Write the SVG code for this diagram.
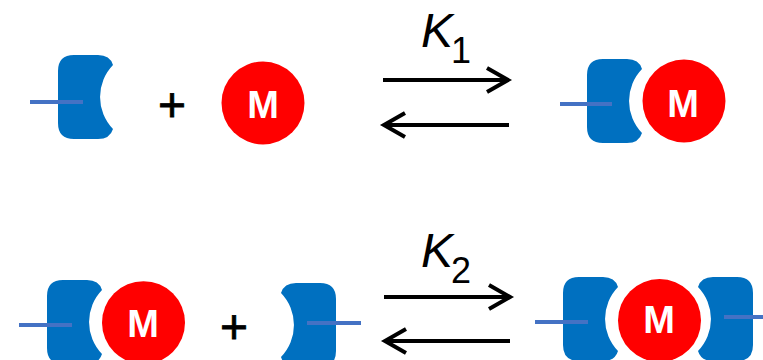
<svg xmlns="http://www.w3.org/2000/svg" width="763" height="360" viewBox="0 0 763 360">
<style>
.cup{fill:#0070C0}
.stick{stroke:#4472C4;stroke-width:4;fill:none}
.ball{fill:#FF0000}
.m{font-family:"Liberation Sans",Arial,sans-serif;font-weight:bold;font-size:38px;fill:#FFFFFF;text-anchor:middle}
.plus{font-family:"Liberation Sans",Arial,sans-serif;font-size:48px;fill:#000000;stroke:#000000;stroke-width:0.8;text-anchor:middle}
.k{font-family:"Liberation Sans",Arial,sans-serif;font-style:italic;font-size:48px;fill:#000000}
.sub{font-family:"Liberation Sans",Arial,sans-serif;font-size:36px;fill:#000000}
.arrow{stroke:#000000;stroke-width:4;fill:none;stroke-linejoin:miter}
</style>
<defs>
<path id="cupShape" d="M16,0 H40 Q52,0 55,10 A46 46 0 0 0 55,74 Q52,84 40,84 H16 Q0,84 0,68 V16 Q0,0 16,0 Z"/>
</defs>
<rect width="763" height="360" fill="#FFFFFF"/>

<!-- Row 1 -->
<g id="receptor1">
<use href="#cupShape" class="cup" transform="translate(58,55)"/>
<line class="stick" x1="30" y1="102" x2="83" y2="102"/>
</g>
<g id="plus1"><text class="plus" x="172" y="121">+</text></g>
<g id="metal1">
<circle class="ball" cx="263" cy="103" r="41.5"/>
<text class="m" x="263" y="118">M</text>
</g>
<g id="k1label">
<text class="k" x="421" y="47">K</text>
<text class="sub" x="451" y="63">1</text>
</g>
<g id="complex1">
<use href="#cupShape" class="cup" transform="translate(587,59)"/>
<line class="stick" x1="560" y1="104" x2="612" y2="104"/>
<circle class="ball" cx="684" cy="101" r="41.5"/>
<text class="m" x="683" y="117">M</text>
</g>

<!-- Row 2 -->
<g id="complex1b">
<use href="#cupShape" class="cup" transform="translate(47,280)"/>
<line class="stick" x1="19" y1="325" x2="72" y2="325"/>
<circle class="ball" cx="143.5" cy="322.7" r="41.5"/>
<text class="m" x="143" y="337">M</text>
</g>
<g id="plus2"><text class="plus" x="234" y="343">+</text></g>
<g id="receptor2">
<use href="#cupShape" class="cup" transform="translate(336,283) scale(-1,1)"/>
<line class="stick" x1="307" y1="323" x2="361" y2="323"/>
</g>
<g id="k2label">
<text class="k" x="421" y="267">K</text>
<text class="sub" x="451" y="283">2</text>
</g>
<g id="complex2">
<use href="#cupShape" class="cup" transform="translate(563,277)"/>
<use href="#cupShape" class="cup" transform="translate(753,277) scale(-1,1)"/>
<line class="stick" x1="535" y1="322" x2="588" y2="322"/>
<line class="stick" x1="724" y1="317" x2="763" y2="317"/>
<circle class="ball" cx="659.5" cy="320.5" r="41.5"/>
<text class="m" x="659" y="333">M</text>
</g>

<g id="connectors">
<path class="arrow" d="M383,80 H507 M487,68 L508,80 L487,92"/>
<path class="arrow" d="M509,125 H385 M405,113 L384,125 L405,137"/>
<path class="arrow" d="M384,297 H509 M489,285 L510,297 L489,309"/>
<path class="arrow" d="M510,341 H386 M406,329 L385,341 L406,353"/>
</g>
</svg>
